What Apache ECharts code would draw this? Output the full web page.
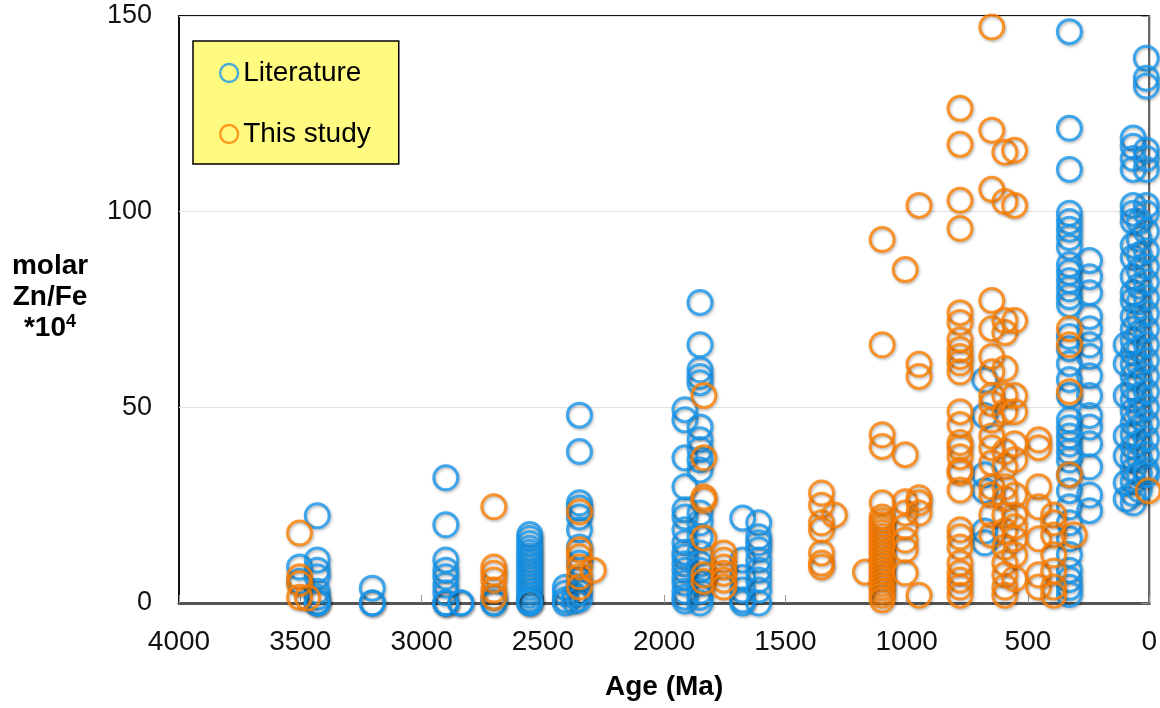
<!DOCTYPE html>
<html><head><meta charset="utf-8">
<script src="https://cdn.jsdelivr.net/npm/echarts@6/dist/echarts.min.js"></script>
<style>html,body{margin:0;padding:0;background:#fff}#c{width:1160px;height:708px}</style>
</head><body><div id="c"></div>
<script>
// Age (Ma) of each column of points, and the molar Zn/Fe*10^4 values in that column
const litAges = [3503, 3430, 3203, 2900, 2838, 2702, 2554, 2407, 2370, 2349, 1914, 1852, 1676, 1610, 678, 329, 246, 95, 66, 41, 12];
const litValues = [
  [9.2, 5.5],
  [22.3, 11, 8.4, 6.7, 3, 1.5, 0.3, 0, 0],
  [3.8, 0, 0],
  [32, 20, 11, 8.4, 6.7, 4.6, 2.6, 0, 0, 0],
  [0, 0],
  [1.5, 0, 0],
  [17.5, 16.5, 15.2, 14, 13, 12, 11, 10, 9, 8, 7, 6, 5, 4, 3, 2, 1, 0.5, 0, 0],
  [4, 2.5, 0.8, 0],
  [2, 0.5],
  [48, 38.7, 25.6, 24.3, 22, 18.7, 14.3, 10.2, 5.9, 2.6, 1],
  [49.4, 46.8, 37.1, 29.7, 23.8, 22, 18.7, 15.4, 13, 11.8, 10, 8.4, 6.5, 5.1, 3, 1.5, 0.5],
  [76.8, 66, 59.6, 57.9, 56.3, 45, 41.7, 39.2, 36.6, 34, 23, 20.5, 16.9, 12.8, 10, 8.4, 5.1, 3, 1.5, 0],
  [21.7, 11, 6.5, 3.3, 0.8, 0],
  [20.5, 16.9, 15.4, 13.6, 11, 8.4, 5.9, 3.3, 0],
  [57, 47.9, 32.8, 28.7, 18.4, 15.4],
  [146, 121.3, 110.8, 99.6, 97.5, 95.5, 93.4, 91, 86.5, 84.5, 82.4, 80.3, 78.3, 76.3, 68.1, 65, 61.2, 57.1, 53, 46.8, 44.8, 42.7, 40.7, 38.7, 36.6, 32.8, 28.7, 24.6, 20.5, 16.4, 12.4, 8.4, 6, 4, 2.2],
  [87.5, 83.4, 79.3, 73.2, 70.1, 66, 63, 58.1, 53, 47.9, 45, 40.7, 34.8, 27.6, 23.6],
  [66, 61.2, 53, 42.7, 37.6, 30.7, 26.6],
  [118.8, 116.7, 113.6, 110.8, 101.6, 99.6, 97.5, 91.4, 88.3, 83.4, 79.3, 77.3, 73.2, 70, 67, 64, 61, 58, 55, 52, 49, 46, 43, 40, 37, 34, 31, 28, 25.6],
  [97.5, 93, 89, 85, 81, 77, 73, 69, 65, 61, 57, 53, 49, 45, 41, 37, 33, 29],
  [139.2, 134.1, 132.1, 115.7, 113.6, 110.8, 101.6, 99.6, 95, 90, 86, 82, 78, 74, 70, 66, 62, 58, 54, 50, 46, 42, 38, 34, 32.8]
];
const studyAges = [3503, 3470, 2702, 2349, 2292, 1836, 1754, 1351, 1298, 1170, 1101, 1006, 949, 780, 649, 595, 555, 456, 394, 329, 309, 4];
const studyValues = [
  [17.9, 6.7, 5, 1.5],
  [1.3],
  [24.6, 9.2, 7.6, 5.9, 3.3, 1.5],
  [23.3, 13.6, 11.8, 9.2, 6.7, 4.1],
  [8.4],
  [53, 37.1, 27.1, 26.3, 16.6, 7.2, 5.5],
  [12.8, 11, 9.2, 7.6, 5.9, 4.1],
  [28.1, 25, 20.5, 18.7, 12.8, 10.2, 9.2],
  [22.5],
  [7.9],
  [92.9, 66, 43, 40, 25.6, 22, 21, 20, 19, 18, 17, 16, 15, 14, 13, 12, 11, 10, 9, 8, 7, 6, 5, 4, 3, 2, 0.8],
  [85.2, 37.9, 25.9, 23, 19.5, 16.1, 13.6, 7.7],
  [101.6, 61, 57.9, 26.9, 25.6, 23, 2],
  [126.4, 117.2, 102.9, 95.7, 74.2, 71.7, 67.3, 64.8, 63, 61.4, 59.1, 48.9, 45.6, 41, 39.7, 37.4, 34, 33.3, 28.9, 18.7, 16.9, 14.3, 10.2, 7.7, 5.9, 4.1, 2],
  [147.2, 120.8, 105.7, 77.3, 70.1, 63, 59.1, 53, 51, 46.8, 42.7, 39.7, 35.8, 29.7, 27.6, 22.5, 17.4],
  [115.2, 102.6, 72.2, 69.1, 59.9, 53, 48.9, 38.7, 34.8, 29.7, 26.6, 22.5, 18.4, 14.3, 10.2, 7.2, 4.1, 2],
  [115.7, 101.6, 72.2, 53, 48.9, 40.7, 36.6, 27.6, 22.5, 19.5, 16.4, 12.3, 6.2],
  [41.7, 39.7, 29.7, 24.6, 16.4, 7.2, 4.1],
  [22.5, 20.5, 17.4, 12.3, 8.2, 4.1, 2],
  [70.1, 66, 54, 32.8],
  [17.4],
  [28.7]
];
const xTicks = [0, 500, 1000, 1500, 2000, 2500, 3000, 3500, 4000];
const yTicks = [0, 50, 100, 150];
const seriesNames = ['Literature', 'This study'];
const seriesColors = ['#1597EF', '#FF7F00'];

function toPoints(ages, vals) {
  const out = [];
  ages.forEach((a, i) => vals[i].forEach(v => out.push([a, v])));
  return out;
}

const chart = echarts.init(document.getElementById('c'));
const F = 'Liberation Sans, Arial, sans-serif';
function mkSeries(name, color, data) {
  return {
    name, type: 'scatter', data, clip: false,
    symbol: 'circle', symbolSize: 24,
    itemStyle: { color: 'rgba(0,0,0,0)', borderColor: color, borderWidth: 3,
      shadowBlur: 3, shadowColor: 'rgba(0,0,0,0.35)', shadowOffsetX: 1, shadowOffsetY: 1.5 },
    emphasis: { disabled: true }
  };
}
chart.setOption({
  animation: false,
  backgroundColor: '#fff',
  grid: { left: 179, right: 7, top: 16, bottom: 105, show: true, borderColor: '#111', borderWidth: 2 },
  xAxis: {
    type: 'value', inverse: true, min: xTicks[0], max: xTicks[xTicks.length - 1], interval: 500,
    name: 'Age (Ma)', nameLocation: 'middle', nameGap: 70,
    nameTextStyle: { fontFamily: F, fontSize: 28, fontWeight: 'bold', color: '#000' },
    axisLine: { lineStyle: { color: '#555', width: 3 } },
    axisTick: { inside: true, length: 8, lineStyle: { color: '#999', width: 1 } },
    axisLabel: { margin: 25, fontFamily: F, fontSize: 28, color: '#111', formatter: v => String(v) },
    splitLine: { show: false }
  },
  yAxis: {
    type: 'value', min: yTicks[0], max: yTicks[yTicks.length - 1], interval: 50,
    axisLine: { show: true, lineStyle: { color: '#666', width: 2 } },
    axisTick: { show: true, length: 8, lineStyle: { color: '#999', width: 1 } },
    axisLabel: { margin: 27, fontFamily: F, fontSize: 27, color: '#111' },
    splitLine: { show: true, lineStyle: { color: '#e2e2e2', width: 1 } }
  },
  legend: {
    orient: 'vertical', left: 193, top: 41,
    padding: [16, 28, 14, 26], itemGap: 29,
    backgroundColor: '#FFFA80', borderColor: '#000', borderWidth: 1.5,
    itemWidth: 18, itemHeight: 18, icon: 'circle',
    textStyle: { fontFamily: F, fontSize: 28, color: '#000', lineHeight: 32 },
    data: seriesNames.map((n, i) => ({ name: n, itemStyle: { color: 'rgba(0,0,0,0)', borderColor: seriesColors[i], borderWidth: 2.3, shadowBlur: 0 } }))
  },
  graphic: [{
    type: 'text', x: 50, y: 251,
    style: {
      text: '{b|molar}\n{b|Zn/Fe}\n{b|*10}{s|4}',
      align: 'center', verticalAlign: 'top',
      rich: {
        b: { fontFamily: F, fontSize: 28, fontWeight: 'bold', fill: '#000', lineHeight: 31, align: 'center' },
        s: { fontFamily: F, fontSize: 18, fontWeight: 'bold', fill: '#000', verticalAlign: 'top', padding: [0, 0, 10, 0] }
      }
    }
  }],
  series: [
    mkSeries(seriesNames[0], seriesColors[0], toPoints(litAges, litValues)),
    mkSeries(seriesNames[1], seriesColors[1], toPoints(studyAges, studyValues))
  ]
});
</script></body></html>
